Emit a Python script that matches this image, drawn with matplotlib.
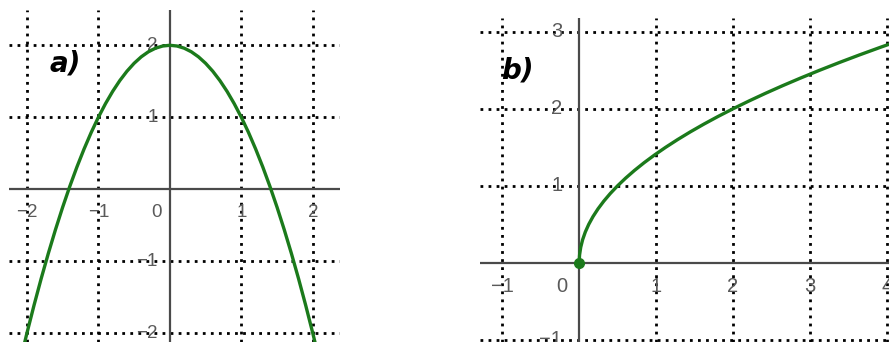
import numpy as np
import matplotlib
matplotlib.use('Agg')
import matplotlib.pyplot as plt

# a) parabola, sampled every 0.1
xa = [-2.1, -2.0, -1.9, -1.8, -1.7, -1.6, -1.5, -1.4, -1.3, -1.2, -1.1,
      -1.0, -0.9, -0.8, -0.7, -0.6, -0.5, -0.4, -0.3, -0.2, -0.1, 0.0,
      0.1, 0.2, 0.3, 0.4, 0.5, 0.6, 0.7, 0.8, 0.9, 1.0,
      1.1, 1.2, 1.3, 1.4, 1.5, 1.6, 1.7, 1.8, 1.9, 2.0, 2.1]
ya = [-2.41, -2.00, -1.61, -1.24, -0.89, -0.56, -0.25, 0.04, 0.31, 0.56, 0.79,
      1.00, 1.19, 1.36, 1.51, 1.64, 1.75, 1.84, 1.91, 1.96, 1.99, 2.00,
      1.99, 1.96, 1.91, 1.84, 1.75, 1.64, 1.51, 1.36, 1.19, 1.00,
      0.79, 0.56, 0.31, 0.04, -0.25, -0.56, -0.89, -1.24, -1.61, -2.00, -2.41]

# b) square-root branch starting at the origin
xb = [0.0, 0.005, 0.02, 0.045, 0.08, 0.125, 0.18, 0.245, 0.32, 0.405, 0.5,
      0.605, 0.72, 0.845, 0.98, 1.125, 1.28, 1.445, 1.62, 1.805, 2.0,
      2.205, 2.42, 2.645, 2.88, 3.125, 3.38, 3.645, 3.92, 4.205]
yb = [0.0, 0.1, 0.2, 0.3, 0.4, 0.5, 0.6, 0.7, 0.8, 0.9, 1.0,
      1.1, 1.2, 1.3, 1.4, 1.5, 1.6, 1.7, 1.8, 1.9, 2.0,
      2.1, 2.2, 2.3, 2.4, 2.5, 2.6, 2.7, 2.8, 2.9]

xticks_a = [-2, -1, 1, 2]
yticks_a = [-2, -1, 1, 2]
xticks_b = [-1, 1, 2, 3, 4]
yticks_b = [-1, 1, 2, 3]

GREEN = '#1b7a1b'
AXIS = '#4a4a4a'
LABEL = '#5a5a5a'
W, H = 889, 342

fig = plt.figure(figsize=(W / 100, H / 100), dpi=100)
plt.rcParams['font.family'] = ['Liberation Sans', 'DejaVu Sans']


def minus(v):
    return str(v).replace('-', '\u2212')


def setup(ax, xlim, ylim, xt, yt, fs, xoff, yoff):
    ax.set_xlim(*xlim)
    ax.set_ylim(*ylim)
    for s in ax.spines.values():
        s.set_visible(False)
    ax.set_xticks([])
    ax.set_yticks([])
    dot = dict(color='black', lw=2.0, linestyle=(0, (1, 1.9)),
               dash_capstyle='butt', zorder=1)
    for v in xt:
        ax.axvline(v, **dot)
    for v in yt:
        ax.axhline(v, **dot)
    ax.axhline(0, color=AXIS, lw=1.6, zorder=2)
    ax.axvline(0, color=AXIS, lw=1.6, zorder=2)
    for v in xt:
        ax.text(v, -yoff, minus(v), ha='center', va='center',
                fontsize=fs, color=LABEL, zorder=3)
    ax.text(-xoff * 0.7, -yoff, '0', ha='right', va='center',
            fontsize=fs, color=LABEL, zorder=3)
    for v in yt:
        ax.text(-xoff, v, minus(v), ha='right', va='center',
                fontsize=fs, color=LABEL, zorder=3)


# panel a
ax1 = fig.add_axes([9 / W, 0, 331 / W, 332 / H])
setup(ax1, (-2.25, 2.38), (-2.12, 2.49), xticks_a, yticks_a, 13.5, 0.17, 0.32)
ax1.plot(xa, ya, color=GREEN, lw=2.4, zorder=4)
ax1.text(-1.47, 1.75, 'a)', fontsize=20, fontweight='bold', style='italic',
         family='DejaVu Sans', ha='center', va='center', color='black')

# panel b
ax2 = fig.add_axes([480 / W, 0, 409 / W, 324 / H])
setup(ax2, (-1.29, 4.03), (-1.03, 3.18), xticks_b, yticks_b, 14.5, 0.22, 0.31)
ax2.plot(xb, yb, color=GREEN, lw=2.4, zorder=4)
ax2.plot([xb[0]], [yb[0]], 'o', color=GREEN, ms=7, zorder=5)
ax2.text(-0.8, 2.5, 'b)', fontsize=20, fontweight='bold', style='italic',
         family='DejaVu Sans', ha='center', va='center', color='black')

fig.savefig('out.png', dpi=100)
